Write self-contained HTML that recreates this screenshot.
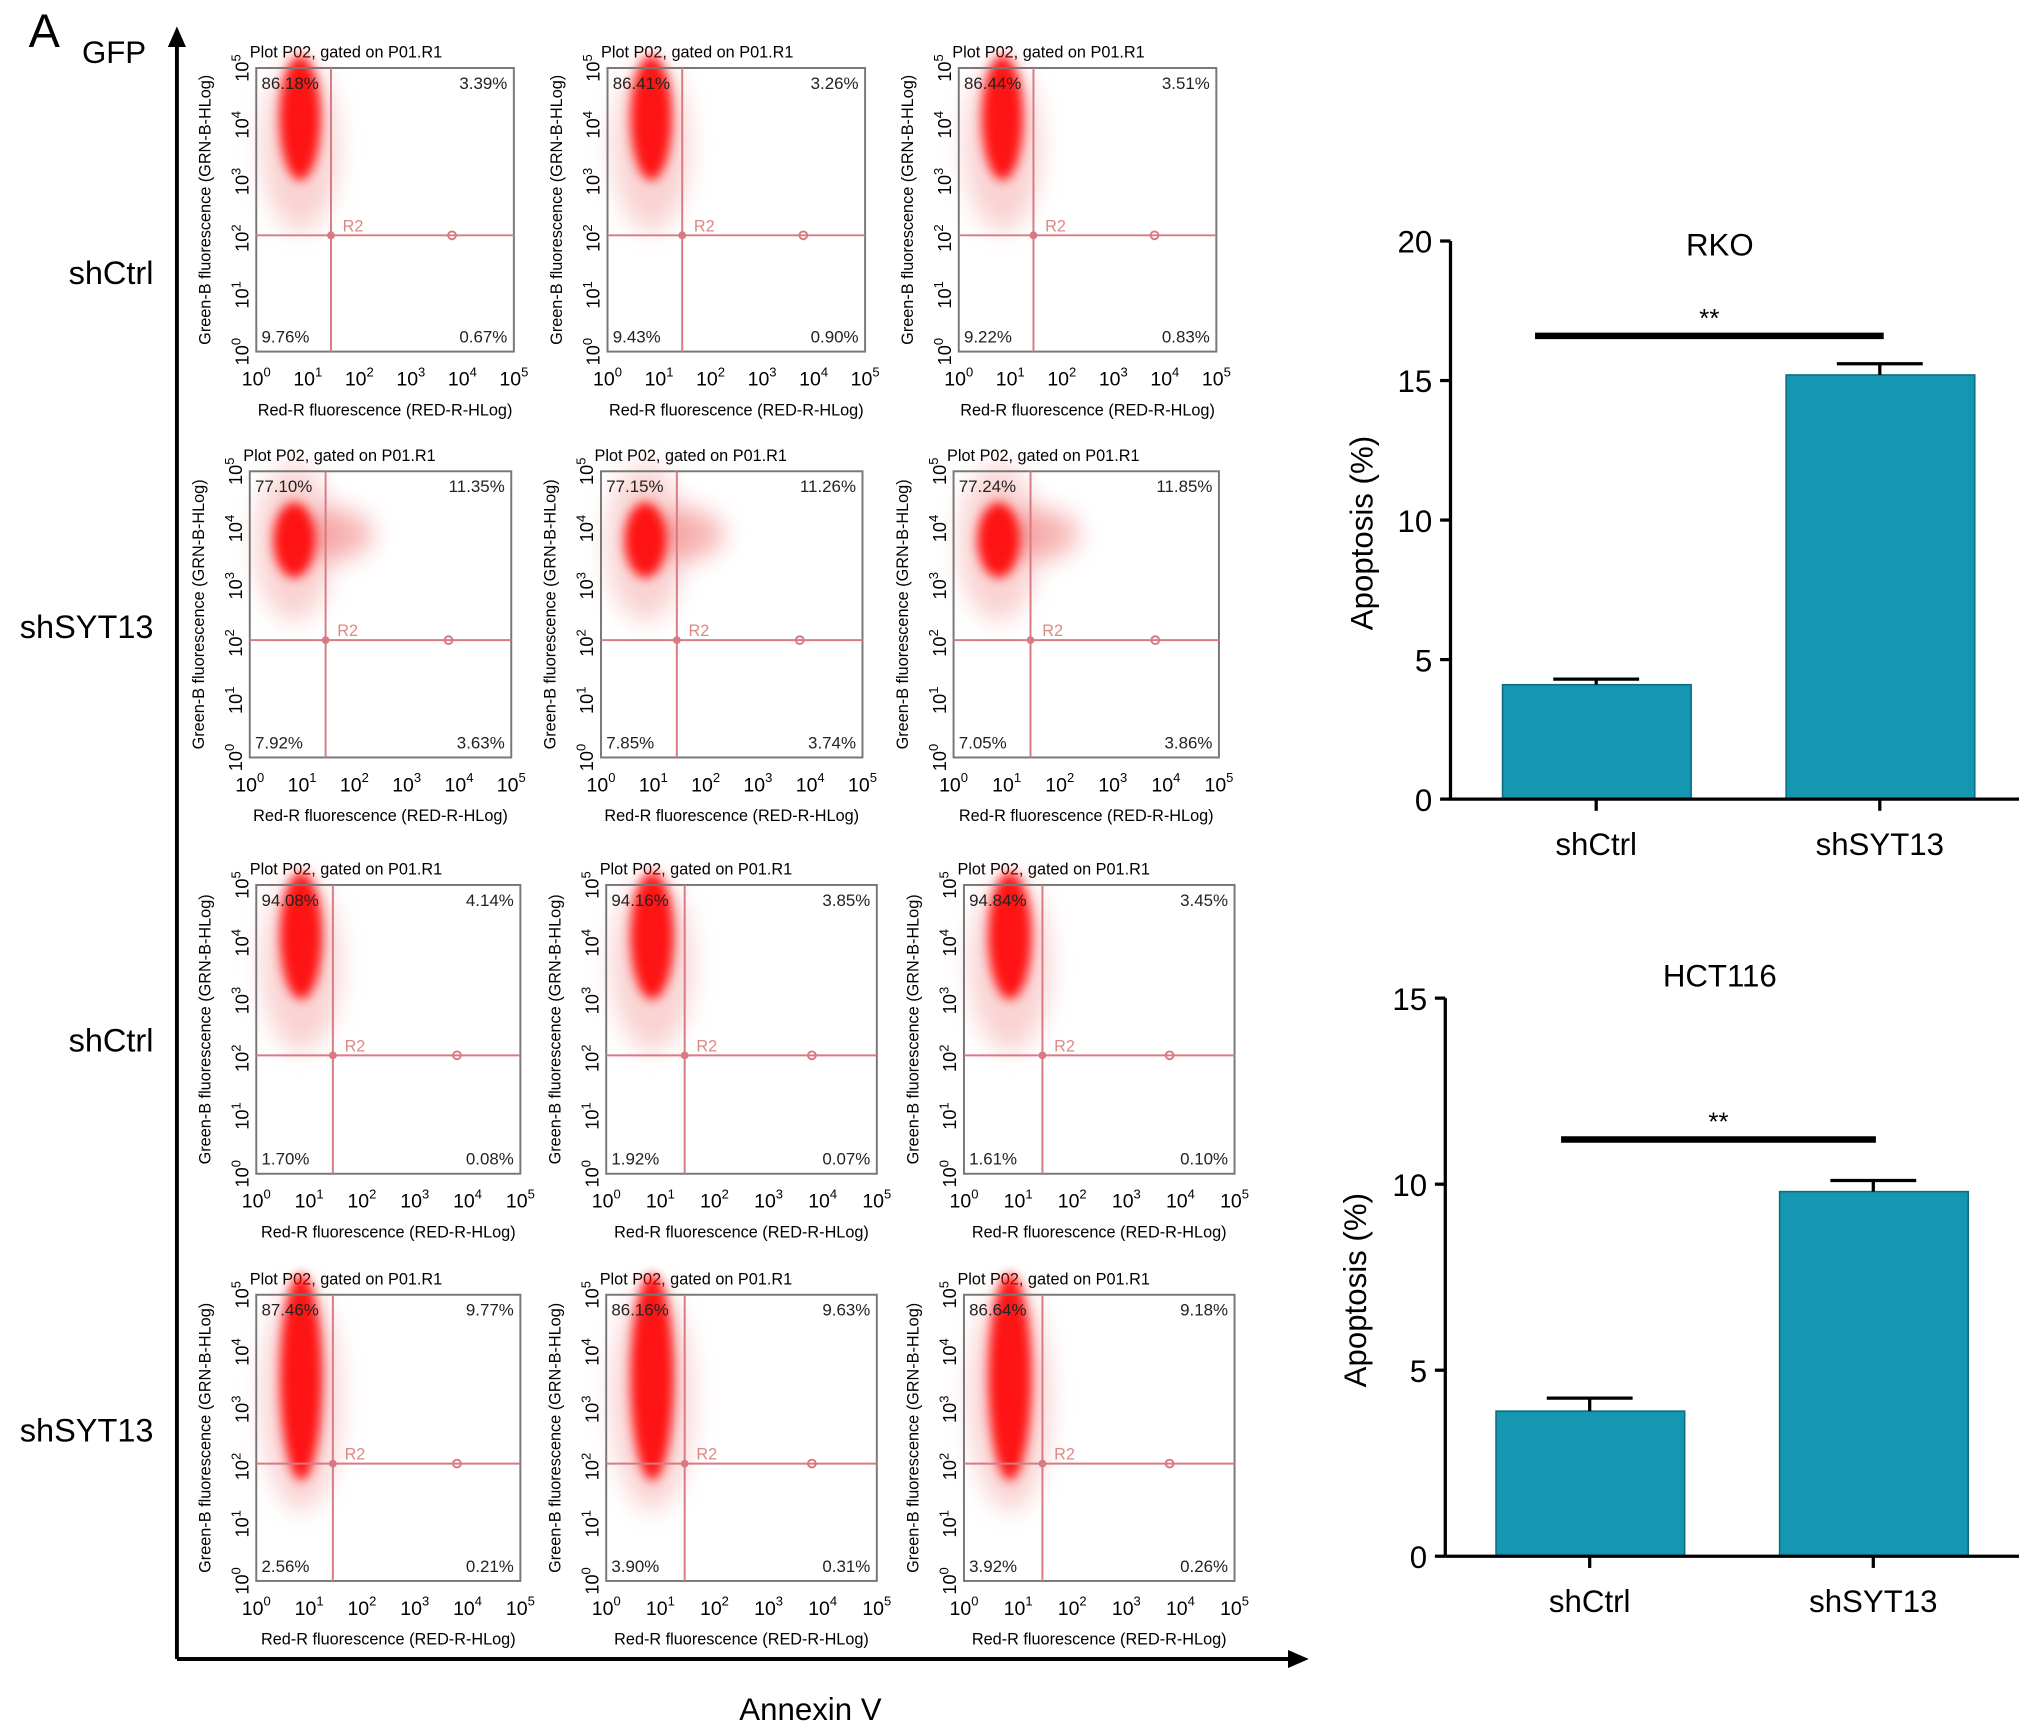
<!DOCTYPE html>
<html><head><meta charset="utf-8"><style>
html,body{margin:0;padding:0;background:#fff;}
svg{display:block;font-family:"Liberation Sans",Arial,sans-serif;}
</style></head><body>
<svg id="fig" width="2032" height="1727" viewBox="0 0 1562 1327" xmlns="http://www.w3.org/2000/svg">
<defs>
<filter id="blur4" x="-50%" y="-50%" width="200%" height="200%"><feGaussianBlur stdDeviation="4"/></filter>
<filter id="blur8" x="-50%" y="-50%" width="200%" height="200%"><feGaussianBlur stdDeviation="9"/></filter>
<marker id="arrow" markerUnits="userSpaceOnUse" markerWidth="16" markerHeight="14" refX="2" refY="7" orient="auto"><path d="M0,0 L16,7 L0,14 z" fill="#000"/></marker>
</defs>
<g id="left">
<text x="22" y="36" font-size="36">A</text>
<text x="63" y="48" font-size="24">GFP</text>
<line x1="136" y1="1275" x2="136" y2="34" stroke="#000" stroke-width="3" marker-end="url(#arrow)"/>
<line x1="136" y1="1275" x2="992" y2="1275" stroke="#000" stroke-width="3" marker-end="url(#arrow)"/>
<text x="623" y="1322" font-size="24" text-anchor="middle">Annexin V</text>
<text x="118" y="218" font-size="25" text-anchor="end">shCtrl</text>
<text x="118" y="490" font-size="25" text-anchor="end">shSYT13</text>
<text x="118" y="808" font-size="25" text-anchor="end">shCtrl</text>
<text x="118" y="1108" font-size="25" text-anchor="end">shSYT13</text>
</g>
</svg>
<script>
// Quadrant percentages per plot (row-major): [UL, UR, LL, LR]
const ulPct = ["86.18%","86.41%","86.44%","77.10%","77.15%","77.24%","94.08%","94.16%","94.84%","87.46%","86.16%","86.64%"];
const urPct = ["3.39%","3.26%","3.51%","11.35%","11.26%","11.85%","4.14%","3.85%","3.45%","9.77%","9.63%","9.18%"];
const llPct = ["9.76%","9.43%","9.22%","7.92%","7.85%","7.05%","1.70%","1.92%","1.61%","2.56%","3.90%","3.92%"];
const lrPct = ["0.67%","0.90%","0.83%","3.63%","3.74%","3.86%","0.08%","0.07%","0.10%","0.21%","0.31%","0.26%"];
const decadeLabels = ["0","1","2","3","4","5"];
// Bar chart data
const categories = ["shCtrl","shSYT13"];
const rkoValues = [4.1, 15.2];
const rkoErrors = [0.2, 0.4];
const rkoTicks = [0,5,10,15,20];
const hctValues = [3.9, 9.8];
const hctErrors = [0.35, 0.3];
const hctTicks = [0,5,10,15];

const NS="http://www.w3.org/2000/svg";
const svg=document.getElementById('fig');
function mk(tag,attrs,parent,text){const e=document.createElementNS(NS,tag);for(const k in attrs)e.setAttribute(k,attrs[k]);if(text!==undefined)e.textContent=text;(parent||svg).appendChild(e);return e;}

const boxes=[
 [197,52,395,270],[467,52,665,270],[737,52,935,270],
 [192,362,393,582],[462,362,663,582],[733,362,937,582],
 [197,680,400,902],[466,680,674,902],[741,680,949,902],
 [197,995,400,1215],[466,995,674,1215],[741,995,949,1215]];
boxes.forEach((b,i)=>{
  const [l,t,r,bt]=b, w=r-l, h=bt-t, row=Math.floor(i/3);
  const g=mk('g',{});
  
  
  const tt=mk('text',{x:l-5,y:t-8,'font-size':12.5},g,'Plot P02, gated on P01.R1');
  
  
  const cx=l+0.17*w;
  const cg=mk('g',{},g);
  
  
  const tail = row===3?0.72:(row===1?0.5:0.55);
  mk('ellipse',{cx:cx,cy:t+tail*h*0.5,rx:0.15*w,ry:tail*h*0.55,fill:'#f08080',opacity:0.35,filter:'url(#blur8)'},cg);
  if(row===1){mk('ellipse',{cx:l+0.33*w,cy:t+0.22*h,rx:0.14*w,ry:0.09*h,fill:'#f06060',opacity:0.45,filter:'url(#blur8)'},cg);}
  const coreH = row===3?0.36:0.22;
  mk('ellipse',{cx:cx,cy:t+(row===1?0.24:coreH*0.8)*h,rx:0.08*w,ry:coreH*h*(row===1?0.6:1),fill:'#ff0000',opacity:0.9,filter:'url(#blur4)'},cg);
  const bx=mk('rect',{x:l,y:t,width:w,height:h,fill:'none',stroke:'#777','stroke-width':1.5},g);
  
  
  const qx=l+0.29*w, qy=t+0.59*h, gx=l+0.76*w;
  mk('line',{x1:qx,y1:t,x2:qx,y2:bt,stroke:'#d77a84','stroke-width':1.5},g);
  mk('line',{x1:l,y1:qy,x2:r,y2:qy,stroke:'#d77a84','stroke-width':1.5},g);
  mk('circle',{cx:qx,cy:qy,r:3,fill:'#d77a84'},g);
  mk('circle',{cx:gx,cy:qy,r:3,fill:'none',stroke:'#d77a84','stroke-width':1.5},g);
  mk('text',{x:qx+9,y:qy-3,'font-size':12.5,fill:'#d88'},g,'R2');
  const fs=13;
  mk('text',{x:l+4,y:t+16,'font-size':fs,fill:'#222'},g,ulPct[i]);
  mk('text',{x:r-5,y:t+16,'font-size':fs,fill:'#222','text-anchor':'end'},g,urPct[i]);
  mk('text',{x:l+4,y:bt-7,'font-size':fs,fill:'#222'},g,llPct[i]);
  mk('text',{x:r-5,y:bt-7,'font-size':fs,fill:'#222','text-anchor':'end'},g,lrPct[i]);
  decadeLabels.forEach((d,k)=>{
    const y=bt-k*h/5;
    const tx=mk('text',{x:0,y:0,'font-size':14,transform:`translate(${l-6},${y}) rotate(-90)`,'text-anchor':'middle'},g);
    mk('tspan',{},tx,'10');mk('tspan',{dy:-6,'font-size':10},tx,d);
    
    
  });
  const yt=mk('text',{x:0,y:0,'font-size':12.5,transform:`translate(${l-35},${t+h/2}) rotate(-90)`,'text-anchor':'middle'},g,'Green-B fluorescence (GRN-B-HLog)');
  
  
  decadeLabels.forEach((d,k)=>{
    const x=l+k*w/5;
    const tx=mk('text',{x:x,y:bt+26,'font-size':15,'text-anchor':'middle'},g);
    mk('tspan',{},tx,'10');mk('tspan',{dy:-7,'font-size':10},tx,d);
    
    
  });
  const xt=mk('text',{x:l+w/2,y:bt+49,'font-size':12.5,'text-anchor':'middle'},g,'Red-R fluorescence (RED-R-HLog)');
  
  
});

function barChart(o){
  const g=mk('g',{});
  
  
  const max=o.ticks[o.ticks.length-1];
  const ys=v=>o.y0-(v/max)*(o.y0-o.yTop);
  o.values.forEach((v,i)=>{
    const cx=o.centers[i];
    const br=mk('rect',{x:cx-72,y:ys(v),width:145,height:o.y0-ys(v),fill:'#1597b1',stroke:'#0d6c80','stroke-width':1.2},g);
    
    
    const e=v+o.errors[i];
    mk('line',{x1:cx,y1:ys(v),x2:cx,y2:ys(e),stroke:'#000','stroke-width':2.5},g);
    mk('line',{x1:cx-33,y1:ys(e),x2:cx+33,y2:ys(e),stroke:'#000','stroke-width':2.5},g);
    mk('line',{x1:cx,y1:o.y0,x2:cx,y2:o.y0+9,stroke:'#000','stroke-width':2.5},g);
    const lb=mk('text',{x:cx,y:o.y0+43,'font-size':24,'text-anchor':'middle'},g,categories[i]);
    
    
  });
  mk('line',{x1:o.ax,y1:o.yTop,x2:o.ax,y2:o.y0,stroke:'#000','stroke-width':2.5},g);
  mk('line',{x1:o.ax,y1:o.y0,x2:1552,y2:o.y0,stroke:'#000','stroke-width':2.5},g);
  o.ticks.forEach(t=>{
    mk('line',{x1:o.ax-8,y1:ys(t),x2:o.ax,y2:ys(t),stroke:'#000','stroke-width':2.5},g);
    const tl=mk('text',{x:o.ax-14,y:ys(t)+9,'font-size':24,'text-anchor':'end'},g,String(t));
    
    
  });
  const ti=mk('text',{x:1322,y:o.titleY,'font-size':24,'text-anchor':'middle'},g,o.title);
  
  
  const sl=mk('line',{x1:o.sig[0],y1:ys(o.sigV),x2:o.sig[1],y2:ys(o.sigV),stroke:'#000','stroke-width':5},g);
  
  
  mk('text',{x:(o.sig[0]+o.sig[1])/2,y:ys(o.sigV)-7,'font-size':20,'text-anchor':'middle'},g,'**');
  const yt=mk('text',{x:0,y:0,'font-size':24,'text-anchor':'middle',transform:`translate(${o.ytX},${(o.yTop+o.y0)/2+10}) rotate(-90)`},g,'Apoptosis (%)');
  
  
}
barChart({name:'rko-bar-chart',values:rkoValues,errors:rkoErrors,ticks:rkoTicks,y0:614,yTop:185,ax:1115,centers:[1227,1445],title:'RKO',titleY:196,sig:[1180,1448],sigV:16.6,ytX:1055});
barChart({name:'hct116-bar-chart',values:hctValues,errors:hctErrors,ticks:hctTicks,y0:1196,yTop:767,ax:1111,centers:[1222,1440],title:'HCT116',titleY:758,sig:[1200,1442],sigV:11.2,ytX:1050});
</script>
</body></html>
